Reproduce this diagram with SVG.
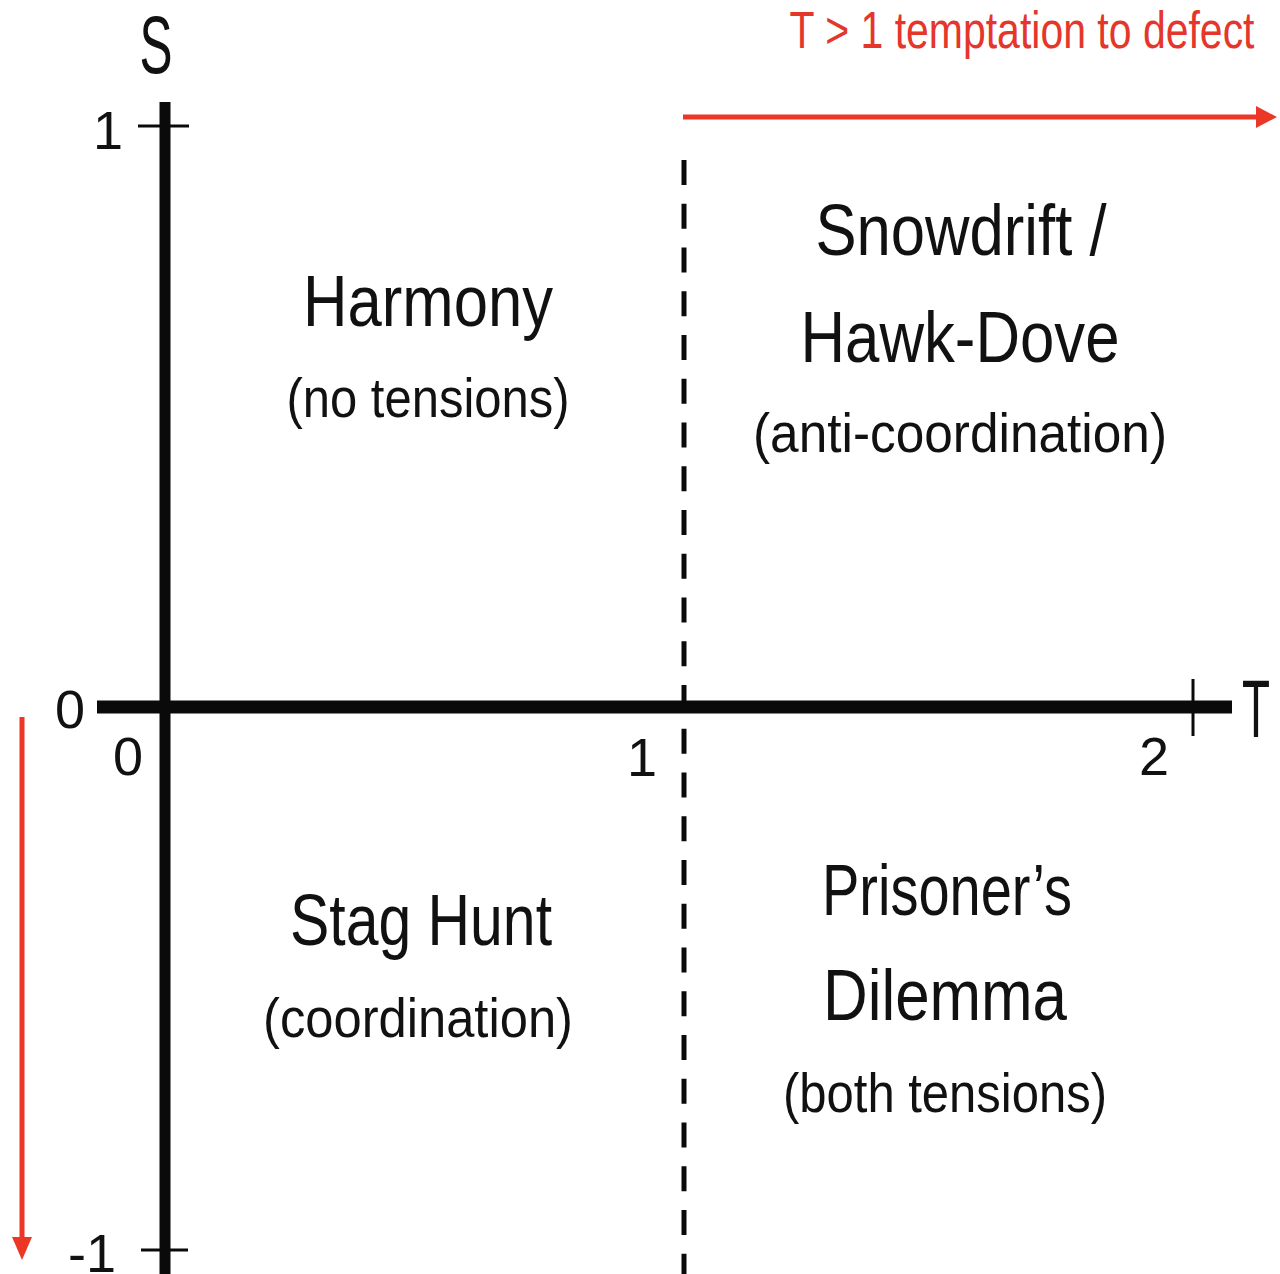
<svg xmlns="http://www.w3.org/2000/svg" width="1280" height="1274" viewBox="0 0 1280 1274">
<style>
text{font-family:"Liberation Sans",Arial,sans-serif;fill:#111;}
.t{font-size:72px;text-anchor:middle;}
.s{font-size:56px;text-anchor:middle;}
.n{font-size:54px;text-anchor:middle;}
.ax{font-size:82px;text-anchor:middle;}
.red{fill:#e4362b;}
.axis{stroke:#0a0a0a;fill:none;}
</style>
<rect width="1280" height="1274" fill="#fff"/>
<g id="connectors">
<line class="axis" x1="165" y1="102" x2="165" y2="1274" stroke-width="11"/>
<line class="axis" x1="97" y1="707" x2="1232" y2="707" stroke-width="13"/>
<line class="axis" x1="138" y1="126" x2="189" y2="126" stroke-width="3"/>
<line class="axis" x1="141" y1="1250" x2="188" y2="1250" stroke-width="3"/>
<line class="axis" x1="1193" y1="679" x2="1193" y2="736" stroke-width="3"/>
<line class="axis" x1="684" y1="160" x2="684" y2="1274" stroke-width="5" stroke-dasharray="25 18.75"/>
<line x1="683" y1="117" x2="1260" y2="117" stroke="#ec3626" stroke-width="5"/>
<polygon points="1256,106 1277,117 1256,128" fill="#ec3626"/>
<line x1="22" y1="717" x2="22" y2="1242" stroke="#ec3626" stroke-width="5"/>
<polygon points="12,1237 32,1237 22,1260" fill="#ec3626"/>
</g>
<g id="axis-labels">
<text class="ax" x="156" y="73" textLength="33" lengthAdjust="spacingAndGlyphs">S</text>
<text class="ax" x="1256" y="737" textLength="28" lengthAdjust="spacingAndGlyphs">T</text>
<text class="n" x="108" y="149">1</text>
<text class="n" x="70" y="728">0</text>
<text class="n" x="128" y="775">0</text>
<text class="n" x="642" y="776">1</text>
<text class="n" x="1154" y="775">2</text>
<text class="n" x="92" y="1272">-1</text>
</g>
<g id="temptation">
<text class="red" x="1022" y="48" font-size="52" text-anchor="middle" textLength="465" lengthAdjust="spacingAndGlyphs">T &gt; 1 temptation to defect</text>
</g>
<g id="harmony">
<text class="t" x="428" y="326" textLength="250" lengthAdjust="spacingAndGlyphs">Harmony</text>
<text class="s" x="428" y="417" textLength="283" lengthAdjust="spacingAndGlyphs">(no tensions)</text>
</g>
<g id="snowdrift">
<text class="t" x="961" y="255" textLength="291" lengthAdjust="spacingAndGlyphs">Snowdrift /</text>
<text class="t" x="960" y="362" textLength="319" lengthAdjust="spacingAndGlyphs">Hawk-Dove</text>
<text class="s" x="960" y="452" textLength="414" lengthAdjust="spacingAndGlyphs">(anti-coordination)</text>
</g>
<g id="stag-hunt">
<text class="t" x="421" y="945" textLength="262" lengthAdjust="spacingAndGlyphs">Stag Hunt</text>
<text class="s" x="418" y="1037" textLength="310" lengthAdjust="spacingAndGlyphs">(coordination)</text>
</g>
<g id="prisoners-dilemma">
<text class="t" x="947" y="915" textLength="250" lengthAdjust="spacingAndGlyphs">Prisoner’s</text>
<text class="t" x="945" y="1020" textLength="244" lengthAdjust="spacingAndGlyphs">Dilemma</text>
<text class="s" x="945" y="1112" textLength="324" lengthAdjust="spacingAndGlyphs">(both tensions)</text>
</g>
</svg>
